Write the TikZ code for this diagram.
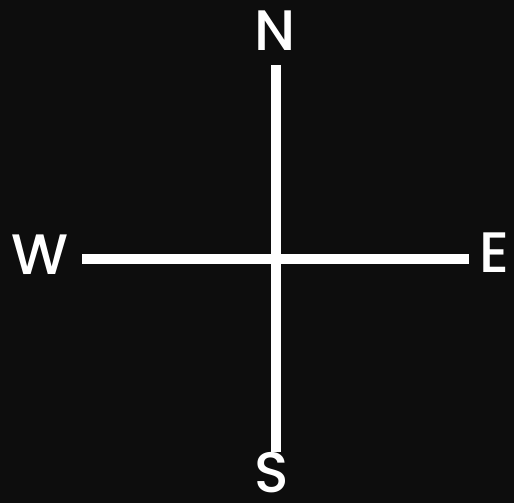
\documentclass[tikz,border=0pt]{standalone}
\usepackage{fontspec}
\newfontfamily\popm{Poppins Medium}
\begin{document}
\begin{tikzpicture}[x=1pt,y=-1pt,
  lbl/.style={text=white,inner sep=0pt,font=\popm\fontsize{57}{57}\selectfont},
  axis/.style={draw=white,line width=10pt}]
\fill[fill={rgb,255:red,13;green,13;blue,13}] (0,0) rectangle (514,503);
\useasboundingbox (0,0) rectangle (514,503);
\node[lbl] (N) at (275.5,30.5) {N};
\node[lbl] (S) at (271.5,473) {S};
\node[lbl] (W) at (40,255) {W};
\node[lbl] (E) at (494,252.5) {E};
\coordinate (nt) at (276,65);
\coordinate (sb) at (276,452);
\coordinate (wl) at (82,258.5);
\coordinate (er) at (469,258.5);
\draw[axis] (nt) -- (sb);
\draw[axis] (wl) -- (er);
\end{tikzpicture}
\end{document}
